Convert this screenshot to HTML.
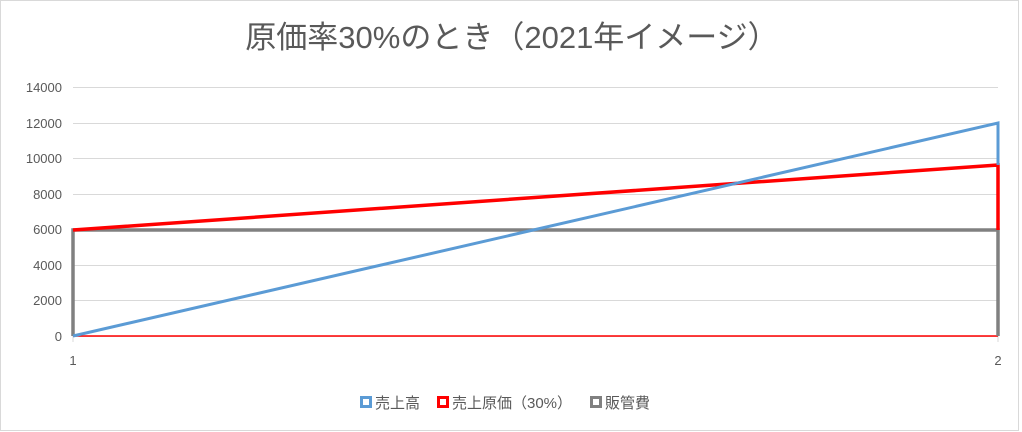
<!DOCTYPE html>
<html><head><meta charset="utf-8"><style>
html,body{margin:0;padding:0;background:#fff}
svg{display:block}
text{font-family:"Liberation Sans","Noto Sans CJK JP",sans-serif;fill:#595959}
</style></head><body>
<svg width="1022" height="432" xmlns="http://www.w3.org/2000/svg">
<rect x="0.5" y="0.5" width="1018" height="430" fill="#fff" stroke="#d9d9d9"/>
<text x="512" y="48" font-size="31" text-anchor="middle">原価率30%のとき（2021年イメージ）</text>
<g stroke="#d9d9d9" stroke-width="1">
<line x1="73" y1="87.5" x2="998" y2="87.5"/>
<line x1="73" y1="123.5" x2="998" y2="123.5"/>
<line x1="73" y1="158.5" x2="998" y2="158.5"/>
<line x1="73" y1="194.5" x2="998" y2="194.5"/>
<line x1="73" y1="229.5" x2="998" y2="229.5"/>
<line x1="73" y1="265.5" x2="998" y2="265.5"/>
<line x1="73" y1="300.5" x2="998" y2="300.5"/>
<line x1="73" y1="336.5" x2="998" y2="336.5"/>
<line x1="73" y1="336" x2="73" y2="342"/>
<line x1="998" y1="336" x2="998" y2="342"/>
</g>
<g font-size="13" text-anchor="end">
<text x="62" y="92">14000</text>
<text x="62" y="128">12000</text>
<text x="62" y="163">10000</text>
<text x="62" y="199">8000</text>
<text x="62" y="234">6000</text>
<text x="62" y="270">4000</text>
<text x="62" y="305">2000</text>
<text x="62" y="341">0</text>
</g>
<text x="73" y="365" font-size="13" text-anchor="middle">1</text>
<text x="998" y="365" font-size="13" text-anchor="middle">2</text>
<line x1="73" y1="336" x2="998" y2="336" stroke="#ff0000" stroke-width="1.5"/>
<polyline points="73,336 73,230 998,230 998,336" fill="none" stroke="#808080" stroke-width="3.5"/>
<polyline points="73,230 998,165 998,230" fill="none" stroke="#ff0000" stroke-width="3.5"/>
<polyline points="73,336 998,123 998,165" fill="none" stroke="#5b9bd5" stroke-width="3"/>
<g font-size="15">
<rect x="361.5" y="397.5" width="9" height="9" fill="none" stroke="#5b9bd5" stroke-width="3"/>
<text x="375" y="408">売上高</text>
<rect x="438.5" y="397.5" width="9" height="9" fill="none" stroke="#ff0000" stroke-width="3"/>
<text x="452" y="408">売上原価（30%）</text>
<rect x="591.5" y="397.5" width="9" height="9" fill="none" stroke="#808080" stroke-width="3"/>
<text x="605" y="408">販管費</text>
</g>
</svg>
</body></html>
